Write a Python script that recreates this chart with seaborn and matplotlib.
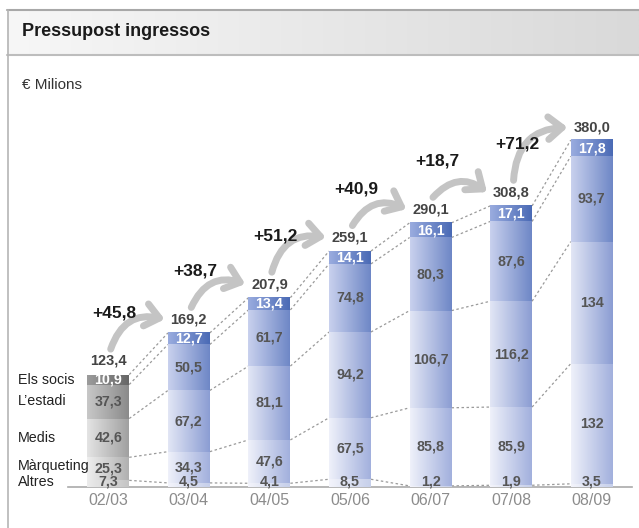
import numpy as np
import pandas as pd
import matplotlib
matplotlib.use('Agg')
import matplotlib.pyplot as plt
import seaborn as sns
from matplotlib.colors import to_rgb
from matplotlib.transforms import blended_transform_factory
from matplotlib.lines import Line2D

# values
seasons = ['02/03', '03/04', '04/05', '05/06', '06/07', '07/08', '08/09']
segments = ['Altres', 'Màrqueting', 'Medis', 'L’estadi', 'Els socis']
altres = [7.3, 4.5, 4.1, 8.5, 1.2, 1.9, 3.5]
marqueting = [25.3, 34.3, 47.6, 67.5, 85.8, 85.9, 132]
medis = [42.6, 67.2, 81.1, 94.2, 106.7, 116.2, 134]
estadi = [37.3, 50.5, 61.7, 74.8, 80.3, 87.6, 93.7]
socis = [10.9, 12.7, 13.4, 14.1, 16.1, 17.1, 17.8]
totals = [123.4, 169.2, 207.9, 259.1, 290.1, 308.8, 380.0]
increments = ['+45,8', '+38,7', '+51,2', '+40,9', '+18,7', '+71,2']

values = {'Altres': altres, 'Màrqueting': marqueting, 'Medis': medis,
          'L’estadi': estadi, 'Els socis': socis}

rows = []
for seg in segments:
    for season, v in zip(seasons, values[seg]):
        rows.append({'season': season, 'segment': seg, 'value': v})
df = pd.DataFrame(rows)
df['cum'] = df.groupby('season')['value'].cumsum()

# gradient colours (left, right) for each segment
blue = {'Altres': ('#f3f4fb', '#c6cfea'),
        'Màrqueting': ('#eff1fa', '#a2b0dd'),
        'Medis': ('#e2e6f5', '#8b9dd3'),
        'L’estadi': ('#c9d1ee', '#6e87c6'),
        'Els socis': ('#9aacdf', '#4a6ab5')}
grey = {'Altres': ('#ececec', '#c4c4c4'),
        'Màrqueting': ('#efefef', '#b0b0b0'),
        'Medis': ('#e4e4e4', '#a0a0a0'),
        'L’estadi': ('#c8c8c8', '#8a8a8a'),
        'Els socis': ('#9c9c9c', '#666666')}

sns.set_style('white')
plt.rcParams['font.family'] = ['Liberation Sans', 'DejaVu Sans']

fig = plt.figure(figsize=(6.39, 5.28), dpi=100)
W, H = 639, 528

# header band
hax = fig.add_axes([7 / W, 1 - 55 / H, 1 - 7 / W, 45 / H])
grad = np.linspace(0, 1, 256)
c0, c1 = np.array(to_rgb('#f7f7f7')), np.array(to_rgb('#d9d9d9'))
hax.imshow((c0[None, :] + (c1 - c0)[None, :] * grad[:, None])[None, :, :],
           aspect='auto', extent=(0, 1, 0, 1))
hax.set_xlim(0, 1)
hax.set_ylim(0, 1)
hax.axis('off')
fig.add_artist(Line2D([7 / W, 1], [1 - 10 / H] * 2, color='#a8a8a8', lw=1.5))
fig.add_artist(Line2D([7 / W, 1], [1 - 55 / H] * 2, color='#bdbdbd', lw=1.5))
fig.add_artist(Line2D([7.5 / W] * 2, [0, 1 - 10 / H], color='#b5b5b5', lw=1.2))
fig.text(22 / W, 1 - 32 / H, 'Pressupost ingressos', fontsize=13,
         fontweight='bold', color='#1a1a1a', va='center')
fig.text(22 / W, 1 - 85 / H, '€ Milions', fontsize=11, color='#333333', va='center')

ax = fig.add_axes([68 / W, 41 / H, 564 / W, 387 / H])
width = 0.52

seg_patches = {}
for seg in reversed(segments):
    n0 = len(ax.patches)
    sns.barplot(data=df[df['segment'] == seg], x='season', y='cum', order=seasons,
                color='white', width=width, saturation=1, errorbar=None, ax=ax, zorder=1)
    seg_patches[seg] = ax.patches[n0:]

for seg in segments:
    for i, p in enumerate(seg_patches[seg]):
        v = values[seg][i]
        top = p.get_height()
        bottom = top - v
        x0 = p.get_x()
        left, right = (grey if i == 0 else blue)[seg]
        l, r = np.array(to_rgb(left)), np.array(to_rgb(right))
        img = (l[None, :] + (r - l)[None, :] * grad[:, None])[None, :, :]
        ax.imshow(img, aspect='auto', extent=(x0, x0 + width, bottom, top), zorder=3)
        txt = f'{v:.1f}'.replace('.', ',') if v != int(v) else str(int(v))
        y = 6 if seg == 'Altres' else bottom + v / 2
        col = 'white' if seg == 'Els socis' else '#555555'
        ax.text(i, y, txt, ha='center', va='center', fontsize=10.3, fontweight='bold',
                color=col, zorder=5)

# dashed connectors between boundaries
for k, seg in enumerate(segments):
    cums = [p.get_height() for p in seg_patches[seg]]
    for i in range(len(seasons) - 1):
        ax.plot([i + width / 2, i + 1 - width / 2], [cums[i], cums[i + 1]],
                ls=(0, (2, 2)), color='#9a9a9a', lw=0.9, zorder=2)

# totals, arrows, increments
for i, t in enumerate(totals):
    ax.text(i, t + 15, f'{t:.1f}'.replace('.', ','), ha='center', va='center',
            fontsize=10.5, color='#444444', fontweight='semibold', zorder=5)
for i, inc in enumerate(increments):
    tail = (i + 0.03, totals[i] + 28)
    head = (i + 1 - 0.3, totals[i + 1] + 15)
    ax.annotate('', xy=head, xytext=tail,
                arrowprops=dict(arrowstyle='->,head_length=0.55,head_width=0.45',
                                connectionstyle='arc3,rad=-0.45', color='#c4c4c4',
                                lw=5, shrinkA=0, shrinkB=0, capstyle='round',
                                joinstyle='round', mutation_scale=18),
                annotation_clip=False, zorder=4)
    ax.text(i + 0.08, tail[1] + 40, inc, ha='center', va='center', fontsize=12.5,
            fontweight='bold', color='#1a1a1a', zorder=5)

# category labels on the left of the first bar
tr = blended_transform_factory(fig.transFigure, ax.transData)
label_y = {'Els socis': 118, 'L’estadi': 94, 'Medis': 54, 'Màrqueting': 23, 'Altres': 6}
for seg, y in label_y.items():
    ax.text(18 / W, y, seg, transform=tr, ha='left', va='center', fontsize=10.3,
            color='#222222')

ax.set_xlim(-0.5, len(seasons) - 0.5)
ax.set_ylim(0, 425)
ax.set_xlabel('')
ax.set_ylabel('')
ax.set_yticks([])
ax.set_xticks(range(len(seasons)))
ax.set_xticklabels(seasons, fontsize=11.5, color='#8c8c8c')
ax.set_xticks(np.arange(-0.5, len(seasons)), minor=True)
ax.tick_params(axis='x', which='major', length=0, pad=4)
ax.tick_params(axis='x', which='minor', length=8, width=1.2, color='#aaaaaa', direction='out')
for s in ['top', 'right', 'left']:
    ax.spines[s].set_visible(False)
ax.spines['bottom'].set_color('#aaaaaa')
ax.spines['bottom'].set_linewidth(1.2)
ax.patch.set_alpha(0)

fig.savefig('out.png', dpi=100)
